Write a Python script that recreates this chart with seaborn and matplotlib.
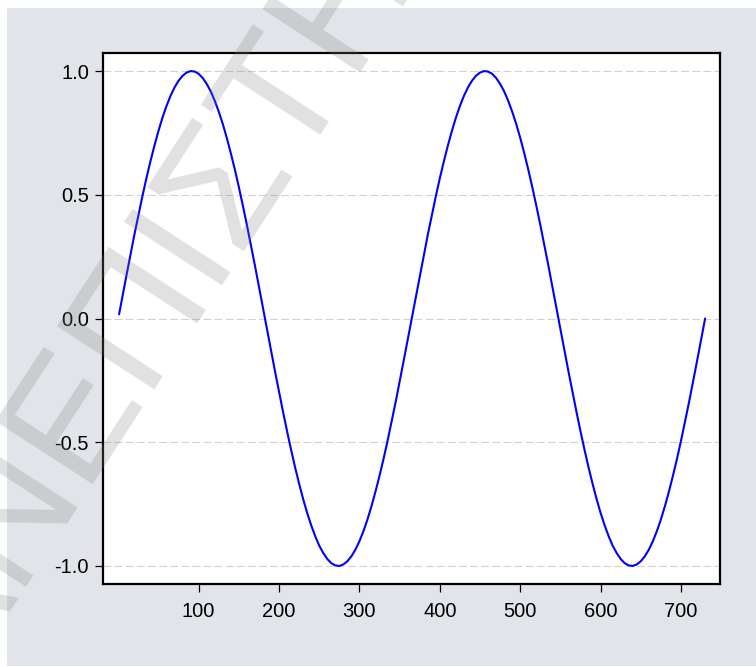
import numpy as np
import pandas as pd
import matplotlib
matplotlib.use("Agg")
import matplotlib.pyplot as plt
from matplotlib.patches import Rectangle
import seaborn as sns

# ---- data ----
x_values = [1] + list(range(5, 735, 5))
y_values = [
    0.017, 0.086, 0.171, 0.255, 0.338, 0.417, 0.494, 0.567, 0.635, 0.699,
    0.758, 0.812, 0.859, 0.900, 0.934, 0.961, 0.981, 0.994, 1.000, 0.998,
    0.989, 0.972, 0.948, 0.918, 0.880, 0.836, 0.786, 0.730, 0.668, 0.602,
    0.531, 0.456, 0.378, 0.297, 0.214, 0.129, 0.043, -0.043, -0.129, -0.214,
    -0.297, -0.378, -0.456, -0.531, -0.602, -0.668, -0.730, -0.786, -0.836, -0.880,
    -0.918, -0.948, -0.972, -0.989, -0.998, -1.000, -0.994, -0.981, -0.961, -0.934,
    -0.900, -0.859, -0.812, -0.758, -0.699, -0.635, -0.567, -0.494, -0.417, -0.338,
    -0.255, -0.171, -0.086, 0.000, 0.086, 0.171, 0.255, 0.338, 0.417, 0.494,
    0.567, 0.635, 0.699, 0.758, 0.812, 0.859, 0.900, 0.934, 0.961, 0.981,
    0.994, 1.000, 0.998, 0.989, 0.972, 0.948, 0.918, 0.880, 0.836, 0.786,
    0.730, 0.668, 0.602, 0.531, 0.456, 0.378, 0.297, 0.214, 0.129, 0.043,
    -0.043, -0.129, -0.214, -0.297, -0.378, -0.456, -0.531, -0.602, -0.668, -0.730,
    -0.786, -0.836, -0.880, -0.918, -0.948, -0.972, -0.989, -0.998, -1.000, -0.994,
    -0.981, -0.961, -0.934, -0.900, -0.859, -0.812, -0.758, -0.699, -0.635, -0.567,
    -0.494, -0.417, -0.338, -0.255, -0.171, -0.086, 0.000,
]
x_ticks = [100, 200, 300, 400, 500, 600, 700]
y_ticks = [-1.0, -0.5, 0.0, 0.5, 1.0]
y_tick_labels = ["-1.0", "-0.5", "0.0", "0.5", "1.0"]
watermark = "ΑΝΕΠΙΣΤΗΜΟΝΙΚΟ"

n = min(len(x_values), len(y_values))
df = pd.DataFrame({"x": x_values[:n], "y": y_values[:n]})

sns.set_theme(style="white")
plt.rcParams["font.family"] = ["Liberation Sans", "DejaVu Sans"]

W, H = 756, 667
fig = plt.figure(figsize=(W / 100, H / 100), dpi=100)
fig.patch.set_facecolor("white")

# grey panel behind the plot
fig.patches.append(Rectangle((7 / W, 1 - 666 / H), (W - 7) / W, (666 - 8) / H,
                             transform=fig.transFigure, facecolor="#E1E5E9",
                             edgecolor="none", zorder=-10))

ax = fig.add_axes([103 / W, 1 - 584 / H, (720 - 103) / W, (584 - 53) / H])
ax.set_zorder(1)
ax.set_facecolor("white")

sns.lineplot(data=df, x="x", y="y", ax=ax, color="#0000FF", linewidth=1.5,
             estimator=None, sort=False)

ax.set_xlim(-19, 748.5)
ax.set_ylim(-1.073, 1.073)
ax.set_xticks(x_ticks)
ax.set_xticklabels([str(t) for t in x_ticks])
ax.set_yticks(y_ticks)
ax.set_yticklabels(y_tick_labels)
ax.set_xlabel("")
ax.set_ylabel("")

for yv in y_ticks:
    ax.axhline(yv, color="#D2D2D2", linewidth=0.8, linestyle=(0, (7, 3)), zorder=0.5)

for s in ax.spines.values():
    s.set_visible(True)
    s.set_color("black")
    s.set_linewidth(1.6)

ax.tick_params(axis="both", which="major", direction="out", length=6, width=0.9,
               color="black", labelsize=14.5, labelcolor="black",
               bottom=True, left=True, top=False, right=False)
ax.tick_params(axis="x", pad=7)
ax.tick_params(axis="y", pad=4)

# diagonal watermark
fig.text(-42 / W, 1 - 692 / H, watermark, fontsize=122, rotation=57,
         rotation_mode="anchor", ha="left", va="baseline", color="#808080",
         alpha=0.24, zorder=10, family=["Liberation Sans", "DejaVu Sans"])

fig.savefig("out.png", dpi=100)
